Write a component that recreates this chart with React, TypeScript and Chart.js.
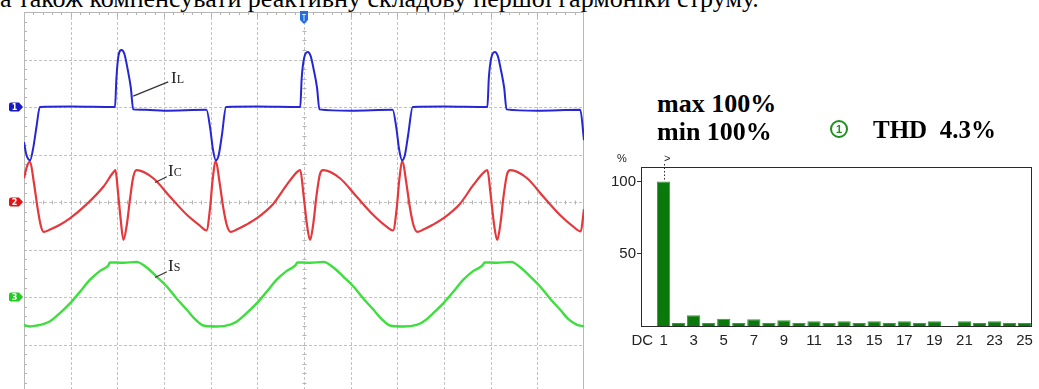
import React, { useEffect, useRef } from 'react';
import { Chart, registerables } from 'chart.js';

Chart.register(...registerables);

// ---------- Oscilloscope traces (x in divisions 0..12, y in divisions -4..4) ----------
const IL_POINTS: [number, number][] = [
  [0.0, 1.26], [0.05, 1.0], [0.13, 0.88], [0.2, 1.15], [0.27, 1.6], [0.34, 2.0],
  [1.0, 2.01], [1.95, 2.0], [1.98, 2.6], [2.02, 3.05], [2.09, 3.2], [2.15, 3.12],
  [2.22, 2.8], [2.29, 2.4], [2.34, 1.95], [2.6, 1.94], [3.0, 1.92], [3.91, 1.94],
  [3.99, 1.55], [4.05, 1.1], [4.11, 0.88], [4.17, 0.98], [4.24, 1.4], [4.33, 2.0],
  [5.0, 2.01], [5.92, 2.0], [5.95, 2.6], [6.0, 3.02], [6.08, 3.16], [6.14, 3.08],
  [6.21, 2.78], [6.28, 2.4], [6.33, 1.95], [7.0, 1.92], [7.9, 1.94], [7.98, 1.55],
  [8.04, 1.1], [8.1, 0.88], [8.16, 0.98], [8.23, 1.4], [8.33, 2.0], [9.0, 2.01],
  [9.93, 2.0], [9.96, 2.6], [10.01, 3.02], [10.09, 3.16], [10.15, 3.08], [10.22, 2.78],
  [10.29, 2.4], [10.34, 1.95], [11.0, 1.92], [11.92, 1.94], [12.0, 1.3],
];

const IC_POINTS: [number, number][] = [
  [0.0, 0.5], [0.06, 0.74], [0.13, 0.85], [0.21, 0.42], [0.29, -0.12], [0.36, -0.5],
  [0.42, -0.63], [0.56, -0.58], [0.77, -0.48], [0.99, -0.34], [1.34, -0.05], [1.7, 0.32],
  [1.91, 0.62], [1.96, 0.67], [2.01, 0.25], [2.07, -0.35], [2.13, -0.8], [2.2, -0.5],
  [2.27, 0.05], [2.34, 0.52], [2.41, 0.67], [2.77, 0.5], [3.13, 0.11], [3.49, -0.27],
  [3.77, -0.5], [3.91, -0.6], [3.99, -0.1], [4.04, 0.45], [4.11, 0.86],
  [4.19, 0.42], [4.27, -0.12], [4.35, -0.5], [4.43, -0.63], [4.56, -0.58], [4.76, -0.48],
  [4.99, -0.34], [5.34, -0.04], [5.63, 0.36], [5.86, 0.64], [5.92, 0.67], [5.99, 0.15],
  [6.06, -0.45], [6.13, -0.8], [6.2, -0.45], [6.27, 0.15], [6.34, 0.58], [6.41, 0.67],
  [6.77, 0.5], [7.13, 0.11], [7.48, -0.27], [7.77, -0.52], [7.91, -0.6], [7.99, -0.1],
  [8.04, 0.45], [8.11, 0.86],
  [8.19, 0.42], [8.27, -0.12], [8.35, -0.5], [8.43, -0.63], [8.56, -0.58], [8.76, -0.48],
  [8.99, -0.34], [9.34, -0.04], [9.63, 0.36], [9.87, 0.64], [9.93, 0.67], [10.0, 0.15],
  [10.07, -0.45], [10.14, -0.8], [10.21, -0.45], [10.28, 0.15], [10.35, 0.58], [10.42, 0.67],
  [10.78, 0.5], [11.13, 0.11], [11.48, -0.27], [11.77, -0.52], [11.93, -0.62], [12.0, -0.15],
];

const IS_POINTS: [number, number][] = [
  [0.0, -2.59], [0.13, -2.62], [0.28, -2.6], [0.41, -2.57], [0.56, -2.51], [0.77, -2.34],
  [0.99, -2.13], [1.2, -1.89], [1.41, -1.64], [1.63, -1.45], [1.81, -1.33], [1.84, -1.27],
  [2.13, -1.28], [2.41, -1.26], [2.63, -1.38], [2.84, -1.57], [3.06, -1.78], [3.27, -2.03],
  [3.49, -2.27], [3.66, -2.46], [3.84, -2.6], [4.13, -2.62], [4.42, -2.58],
  [4.57, -2.51], [4.77, -2.34], [4.99, -2.13], [5.2, -1.89], [5.41, -1.64], [5.63, -1.45],
  [5.82, -1.33], [5.86, -1.27], [6.13, -1.28], [6.42, -1.26], [6.63, -1.38], [6.84, -1.57],
  [7.06, -1.78], [7.27, -2.03], [7.49, -2.27], [7.66, -2.46], [7.84, -2.6], [8.13, -2.62],
  [8.43, -2.58],
  [8.57, -2.51], [8.77, -2.34], [8.99, -2.13], [9.2, -1.89], [9.41, -1.64], [9.63, -1.45],
  [9.83, -1.33], [9.87, -1.27], [10.13, -1.28], [10.44, -1.26], [10.64, -1.38], [10.85, -1.57],
  [11.06, -1.78], [11.27, -2.03], [11.49, -2.27], [11.66, -2.46], [11.84, -2.58], [12.0, -2.62],
];

const X_DIVISIONS = [0, 1, 2, 3, 4, 5, 6, 7, 8, 9, 10, 11, 12];
const Y_DIVISIONS = [-4, -3, -2, -1, 0, 1, 2, 3, 4];
const CHANNEL_LEVELS = [2, 0, -2];
const CHANNEL_NAMES = ['1', '2', '3'];
const TRIGGER_POSITION = 6;
// leader lines: [labelX, labelY, traceX, traceY] in divisions
const LEADERS: [number, number, number, number][] = [
  [3.09, 2.53, 2.34, 2.23],
  [3.06, 0.53, 2.81, 0.41],
  [3.06, -1.47, 2.81, -1.59],
];

// ---------- Harmonic spectrum ----------
const HARMONIC_LABELS = [
  'DC', '1', '2', '3', '4', '5', '6', '7', '8', '9', '10', '11', '12', '13',
  '14', '15', '16', '17', '18', '19', '20', '21', '22', '23', '24', '25',
];
const HARMONIC_VALUES = [
  0, 100, 2.1, 7.4, 2.1, 5.1, 2.1, 4.6, 2.1, 3.9, 2.1, 3.3, 2.1, 3.3,
  2.1, 3.3, 2.1, 3.3, 2.1, 3.3, 0, 3.3, 2.1, 3.3, 2.1, 2.1,
];
const PERCENT_TICKS = [50, 100];

const TRACE_COLORS = ['#2626d4', '#e5383c', '#3ede3e'];
const TRACE_WIDTHS = [2, 2.2, 2.4];
const TAG_COLORS = ['#1818c8', '#e01616', '#20cc20'];

const scopePlugin = {
  id: 'scopeDecor',
  beforeDatasetsDraw(chart: any) {
    const { ctx, chartArea: a, scales } = chart;
    const x = scales.x;
    const y = scales.y;
    ctx.save();
    ctx.lineWidth = 1;
    ctx.strokeStyle = '#c2c2c2';
    ctx.setLineDash([3, 2]);
    X_DIVISIONS.slice(1, -1).forEach((v) => {
      const px = Math.round(x.getPixelForValue(v)) + 0.5;
      ctx.beginPath();
      ctx.moveTo(px, a.top);
      ctx.lineTo(px, a.bottom);
      ctx.stroke();
    });
    Y_DIVISIONS.slice(1, -1).forEach((v) => {
      const py = Math.round(y.getPixelForValue(v)) + 0.5;
      ctx.beginPath();
      ctx.moveTo(a.left, py);
      ctx.lineTo(a.right, py);
      ctx.stroke();
    });
    ctx.setLineDash([]);
    ctx.strokeStyle = '#b8b8b8';
    ctx.strokeRect(Math.round(a.left) + 0.5, Math.round(a.top) + 0.5, a.width - 1, a.height - 1);
    // minor ticks
    ctx.strokeStyle = '#b4b4b4';
    const yc = Math.round(y.getPixelForValue(0)) + 0.5;
    const xc = Math.round(x.getPixelForValue(TRIGGER_POSITION)) + 0.5;
    for (let i = 1; i < X_DIVISIONS.length * 5 - 5; i++) {
      const px = Math.round(x.getPixelForValue(i / 5)) + 0.5;
      const len = i % 5 === 0 ? 5 : 3;
      ctx.beginPath();
      ctx.moveTo(px, a.top);
      ctx.lineTo(px, a.top + len);
      ctx.moveTo(px, yc - 2);
      ctx.lineTo(px, yc + 2);
      ctx.stroke();
    }
    for (let i = 1; i < Y_DIVISIONS.length * 5 - 5; i++) {
      const py = Math.round(y.getPixelForValue(-4 + i / 5)) + 0.5;
      ctx.beginPath();
      ctx.moveTo(a.left, py);
      ctx.lineTo(a.left + 3, py);
      ctx.moveTo(xc - 2, py);
      ctx.lineTo(xc + 2, py);
      ctx.stroke();
    }
    ctx.restore();
  },
  afterDatasetsDraw(chart: any) {
    const { ctx, chartArea: a, scales } = chart;
    const x = scales.x;
    const y = scales.y;
    ctx.save();
    // leader lines
    ctx.strokeStyle = '#333';
    ctx.lineWidth = 1.2;
    LEADERS.forEach(([x1, y1, x2, y2]) => {
      ctx.beginPath();
      ctx.moveTo(x.getPixelForValue(x1), y.getPixelForValue(y1));
      ctx.lineTo(x.getPixelForValue(x2), y.getPixelForValue(y2));
      ctx.stroke();
    });
    // channel tags
    CHANNEL_LEVELS.forEach((lvl, i) => {
      const py = y.getPixelForValue(lvl);
      const l = a.left - 15;
      const r = a.left - 1;
      ctx.fillStyle = TAG_COLORS[i];
      ctx.beginPath();
      ctx.moveTo(l + 2, py - 4.5);
      ctx.lineTo(r - 4, py - 4.5);
      ctx.lineTo(r, py);
      ctx.lineTo(r - 4, py + 4.5);
      ctx.lineTo(l + 2, py + 4.5);
      ctx.quadraticCurveTo(l, py + 4.5, l, py + 2.5);
      ctx.lineTo(l, py - 2.5);
      ctx.quadraticCurveTo(l, py - 4.5, l + 2, py - 4.5);
      ctx.fill();
      ctx.fillStyle = '#fff';
      ctx.font = 'bold 8px "DejaVu Sans"';
      ctx.textAlign = 'center';
      ctx.textBaseline = 'middle';
      ctx.fillText(CHANNEL_NAMES[i], (l + r - 3) / 2, py + 0.5);
    });
    // trigger marker
    const tx = x.getPixelForValue(TRIGGER_POSITION);
    ctx.fillStyle = '#1f6fe0';
    ctx.beginPath();
    ctx.moveTo(tx - 4, a.top - 1);
    ctx.lineTo(tx + 4, a.top - 1);
    ctx.lineTo(tx + 4, a.top + 8);
    ctx.lineTo(tx, a.top + 12);
    ctx.lineTo(tx - 4, a.top + 8);
    ctx.closePath();
    ctx.fill();
    ctx.strokeStyle = '#cfe0ff';
    ctx.lineWidth = 1;
    ctx.beginPath();
    ctx.moveTo(tx - 2, a.top + 2.5);
    ctx.lineTo(tx + 2, a.top + 2.5);
    ctx.moveTo(tx, a.top + 2.5);
    ctx.lineTo(tx, a.top + 9);
    ctx.stroke();
    ctx.restore();
  },
};

const spectrumPlugin = {
  id: 'spectrumDecor',
  afterDatasetsDraw(chart: any) {
    const { ctx, chartArea: a, scales } = chart;
    ctx.save();
    ctx.strokeStyle = '#2a2a2a';
    ctx.lineWidth = 1;
    ctx.strokeRect(Math.round(a.left) + 0.5, Math.round(a.top) + 0.5, Math.round(a.width) - 1, Math.round(a.height));
    const px = Math.round(scales.x.getPixelForValue(1)) + 0.5;
    ctx.setLineDash([1.5, 2]);
    ctx.beginPath();
    ctx.moveTo(px, a.top - 3);
    ctx.lineTo(px, scales.y.getPixelForValue(HARMONIC_VALUES[1]));
    ctx.stroke();
    ctx.restore();
  },
};

export default function App() {
  const scopeRef = useRef<HTMLCanvasElement | null>(null);
  const specRef = useRef<HTMLCanvasElement | null>(null);

  useEffect(() => {
    const toXY = (pts: [number, number][]) => pts.map(([x, y]) => ({ x, y }));
    const scope = new Chart(scopeRef.current as HTMLCanvasElement, {
      type: 'line',
      data: {
        datasets: [IL_POINTS, IC_POINTS, IS_POINTS].map((pts, i) => ({
          data: toXY(pts),
          borderColor: TRACE_COLORS[i],
          borderWidth: TRACE_WIDTHS[i],
          pointRadius: 0,
          cubicInterpolationMode: 'monotone' as const,
          fill: false,
        })),
      },
      options: {
        animation: false,
        responsive: false,
        maintainAspectRatio: false,
        layout: { padding: { left: 24, top: 12, right: 16, bottom: 8 } },
        scales: {
          x: { type: 'linear', min: 0, max: 12, display: false },
          y: { type: 'linear', min: -4, max: 4, display: false },
        },
        plugins: { legend: { display: false }, tooltip: { enabled: false } },
      },
      plugins: [scopePlugin],
    });

    const tickFont = { family: '"Liberation Sans", Arial, sans-serif', size: 15 };
    const spec = new Chart(specRef.current as HTMLCanvasElement, {
      type: 'bar',
      data: {
        labels: HARMONIC_LABELS,
        datasets: [
          {
            data: HARMONIC_VALUES,
            backgroundColor: '#0a780a',
            borderColor: '#3a9a3a',
            borderWidth: 1,
            barPercentage: 0.88,
            categoryPercentage: 1,
          },
        ],
      },
      options: {
        animation: false,
        responsive: false,
        maintainAspectRatio: false,
        layout: { padding: { left: 0, top: 17, right: 2, bottom: 0 } },
        scales: {
          x: {
            grid: { display: false, drawTicks: false },
            border: { display: false },
            ticks: {
              autoSkip: false,
              maxRotation: 0,
              padding: 6,
              color: '#222',
              font: tickFont,
              callback: (_v: any, i: number) =>
                i === 0 ? HARMONIC_LABELS[0] + '   ' : i % 2 === 1 ? HARMONIC_LABELS[i] : '',
            },
            afterFit: (s: any) => {
              s.height = 34;
            },
          },
          y: {
            min: 0,
            max: 110,
            afterBuildTicks: (s: any) => {
              s.ticks = PERCENT_TICKS.map((v) => ({ value: v }));
            },
            grid: { drawOnChartArea: false, drawTicks: true, tickLength: 4, color: '#333' },
            border: { display: false },
            ticks: { padding: 1, color: '#222', font: tickFont },
            afterFit: (s: any) => {
              s.width = 41;
            },
          },
        },
        plugins: { legend: { display: false }, tooltip: { enabled: false } },
      },
      plugins: [spectrumPlugin],
    });

    return () => {
      scope.destroy();
      spec.destroy();
    };
  }, []);

  const serif = '"Liberation Serif", "Times New Roman", serif';
  const abs = (left: number, top: number, extra: React.CSSProperties = {}): React.CSSProperties => ({
    position: 'absolute',
    left,
    top,
    whiteSpace: 'pre',
    ...extra,
  });

  return (
    <div
      style={{
        position: 'fixed',
        left: 0,
        top: 0,
        width: 1039,
        height: 389,
        overflow: 'hidden',
        background: '#fff',
      }}
    >
      <div style={abs(0, -14, { fontFamily: serif, fontSize: 26, lineHeight: '26px', color: '#000' })}>
        а також компенсувати реактивну складову першої гармоніки струму.
      </div>
      <canvas ref={scopeRef} width={600} height={400} style={{ position: 'absolute', left: 0, top: 0 }} />
      <canvas ref={specRef} width={439} height={210} style={{ position: 'absolute', left: 600, top: 150 }} />

      <div style={abs(171, 70, { fontFamily: serif, fontSize: 17, lineHeight: '16px', color: '#222' })}>
        I<span style={{ fontSize: 12 }}>L</span>
      </div>
      <div style={abs(168, 163, { fontFamily: serif, fontSize: 17, lineHeight: '16px', color: '#222' })}>
        I<span style={{ fontSize: 12 }}>C</span>
      </div>
      <div style={abs(168, 258, { fontFamily: serif, fontSize: 17, lineHeight: '16px', color: '#222' })}>
        I<span style={{ fontSize: 12 }}>S</span>
      </div>

      <div style={abs(657, 91, { fontFamily: serif, fontWeight: 'bold', fontSize: 26, lineHeight: '26px', color: '#000' })}>
        max 100%
      </div>
      <div style={abs(657, 119, { fontFamily: serif, fontWeight: 'bold', fontSize: 26, lineHeight: '26px', color: '#000' })}>
        min 100%
      </div>
      <div
        style={abs(830, 120, {
          width: 18,
          height: 18,
          boxSizing: 'border-box',
          border: '2px solid #1f8f1f',
          borderRadius: '50%',
          color: '#1f8f1f',
          fontFamily: '"Liberation Sans", sans-serif',
          fontWeight: 'bold',
          fontSize: 11,
          lineHeight: '14px',
          textAlign: 'center',
        })}
      >
        1
      </div>
      <div style={abs(873, 117, { fontFamily: serif, fontWeight: 'bold', fontSize: 25, lineHeight: '25px', color: '#000' })}>
        THD  4.3%
      </div>
      <div style={abs(617, 153, { fontFamily: '"Liberation Sans", sans-serif', fontSize: 11, lineHeight: '11px', color: '#222' })}>
        %
      </div>
      <div style={abs(664, 153, { fontFamily: '"Liberation Sans", sans-serif', fontSize: 11, lineHeight: '11px', color: '#222' })}>
        &gt;
      </div>
    </div>
  );
}
